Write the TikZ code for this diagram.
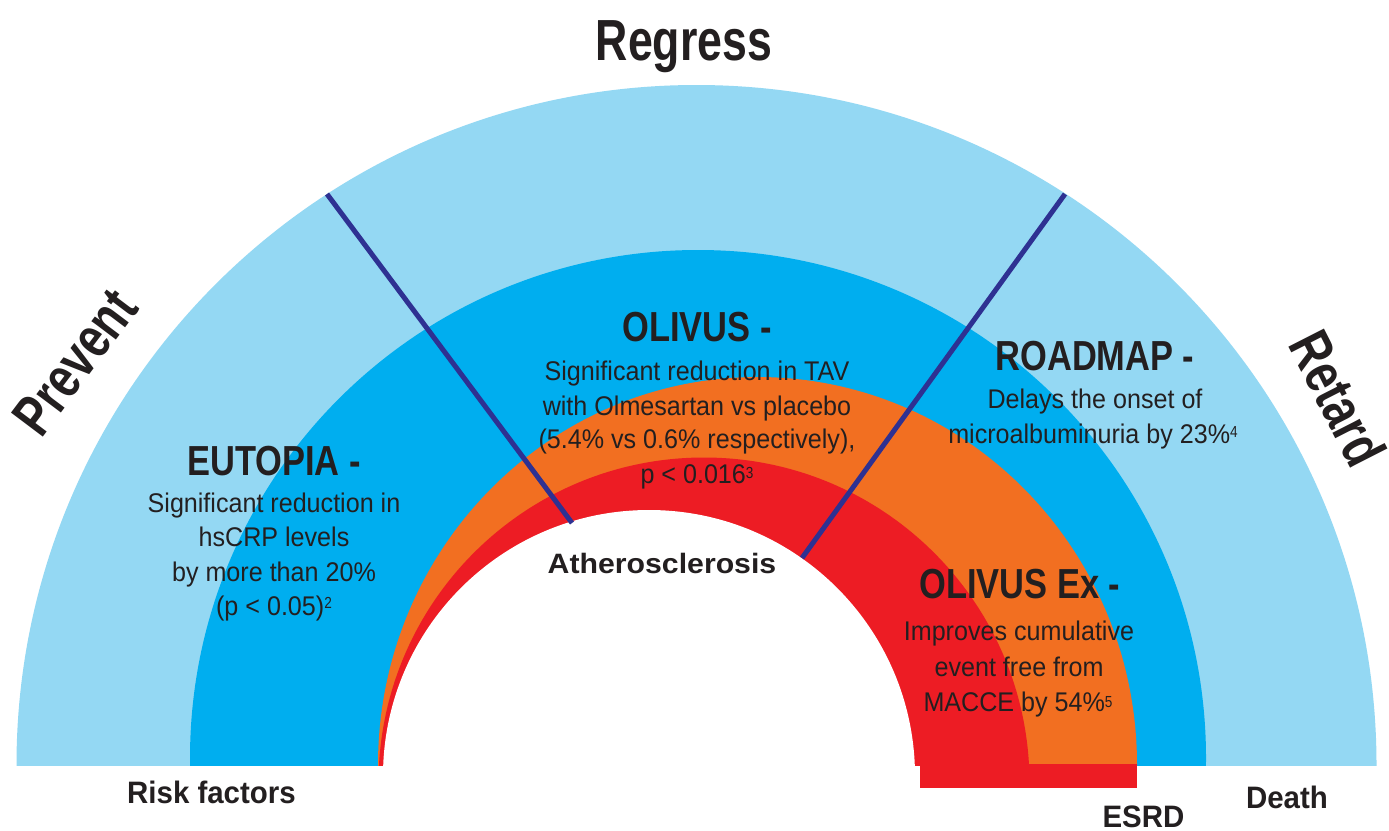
\documentclass[tikz,border=0pt]{standalone}
\usepackage{fontspec}
\newfontfamily\bodyf[FakeStretch=0.93]{Liberation Sans}
\newfontfamily\supf[FakeStretch=0.85]{Liberation Sans}
\newfontfamily\headf[FakeStretch=0.82]{Liberation Sans}
\newfontfamily\bigf[FakeStretch=0.77]{Liberation Sans}
\newfontfamily\labf[FakeStretch=0.95]{Liberation Sans}
\newfontfamily\athf[FakeStretch=1.08]{Liberation Sans}
\definecolor{lightblue}{HTML}{94D8F3}
\definecolor{midblue}{HTML}{00AEEF}
\definecolor{orng}{HTML}{F26F21}
\definecolor{redc}{HTML}{ED1C24}
\definecolor{navy}{HTML}{2E3192}
\definecolor{ink}{HTML}{231F20}
\newcommand\supr[2]{\raisebox{#1pt}{\supf\fontsize{16}{16}\selectfont #2}}
\begin{document}
\begin{tikzpicture}[x=1pt,y=-1pt,
  body/.style={font=\bodyf\fontsize{27}{27}\selectfont, text=ink, anchor=base, inner sep=0pt},
  head/.style={font=\headf\bfseries\fontsize{42}{42}\selectfont, text=ink, anchor=base, inner sep=0pt},
  big/.style={font=\bigf\bfseries\fontsize{58}{58}\selectfont, text=ink, inner sep=0pt},
  lab/.style={font=\labf\bfseries\fontsize{31}{31}\selectfont, text=ink, anchor=base, inner sep=0pt},
  ath/.style={font=\athf\bfseries\fontsize{28}{28}\selectfont, text=ink, anchor=base, inner sep=0pt},
  divider/.style={navy, line width=5pt}]
\fill[white] (0,0) rectangle (1389,830);
\useasboundingbox (0,0) rectangle (1389,830);
% rings
\begin{scope}
  \clip (0,0) rectangle (1389,765);
  \fill[lightblue] (696.5,765) circle [radius=680pt];
  \fill[midblue] (698,758) circle [radius=508pt];
  \fill[orng] (757.5,765) ellipse [x radius=379.5pt, y radius=388pt];
  \fill[redc] (704,783) circle [radius=325.5pt];
\end{scope}
\fill[redc] (920,764) rectangle (1137,788);
\begin{scope}
  \clip (0,0) rectangle (1389,765);
  \fill[white] (649,776) circle [radius=266pt];
\end{scope}
% dividers
\coordinate (L1) at (327,194);
\coordinate (L2) at (572,523);
\coordinate (R1) at (1065,194);
\coordinate (R2) at (802,558);
\draw[divider] (L1) -- (L2);
\draw[divider] (R1) -- (R2);
% big labels
\node[big, anchor=base] (regress) at (684,60) {Regress};
\node[big, rotate=53] (prevent) at (75,362) {Prevent};
\node[big, rotate=-63] (retard) at (1338,398) {Retard};
% EUTOPIA
\node[head] (eutH) at (274,475) {EUTOPIA -};
\node[body] (eut1) at (274,512.7) {Significant reduction in};
\node[body] (eut2) at (274,546.7) {hsCRP levels};
\node[body] (eut3) at (274,581.7) {by more than 20\%};
\node[body] (eut4) at (274,615.5) {(p < 0.05)\supr{7}{2}};
% OLIVUS
\node[head] (olvH) at (697,341.7) {OLIVUS -};
\node[body] (olv1) at (697,380) {Significant reduction in TAV};
\node[body] (olv2) at (697,415) {with Olmesartan vs placebo};
\node[body] (olv3) at (697,448.3) {(5.4\% vs 0.6\% respectively),};
\node[body] (olv4) at (697,483.3) {p < 0.016\supr{5}{3}};
% ROADMAP
\node[head] (rdmH) at (1095,370) {ROADMAP -};
\node[body] (rdm1) at (1095,408.3) {Delays the onset of};
\node[body] (rdm2) at (1093,443.3) {microalbuminuria by 23\%\supr{6}{4}};
% OLIVUS Ex
\node[head] (oexH) at (1020,598.3) {OLIVUS Ex -};
\node[body] (oex1) at (1019,640.7) {Improves cumulative};
\node[body] (oex2) at (1019,676) {event free from};
\node[body] (oex3) at (1018,711.7) {MACCE by 54\%\supr{4}{5}};
% axis labels
\node[ath] (ather) at (662,573) {Atherosclerosis};
\node[lab] (risk) at (211.5,803) {Risk factors};
\node[lab, text depth=0pt] (esrd) at (1143.5,827) {ESRD};
\node[lab] (death) at (1287,808) {Death};
\end{tikzpicture}
\end{document}
